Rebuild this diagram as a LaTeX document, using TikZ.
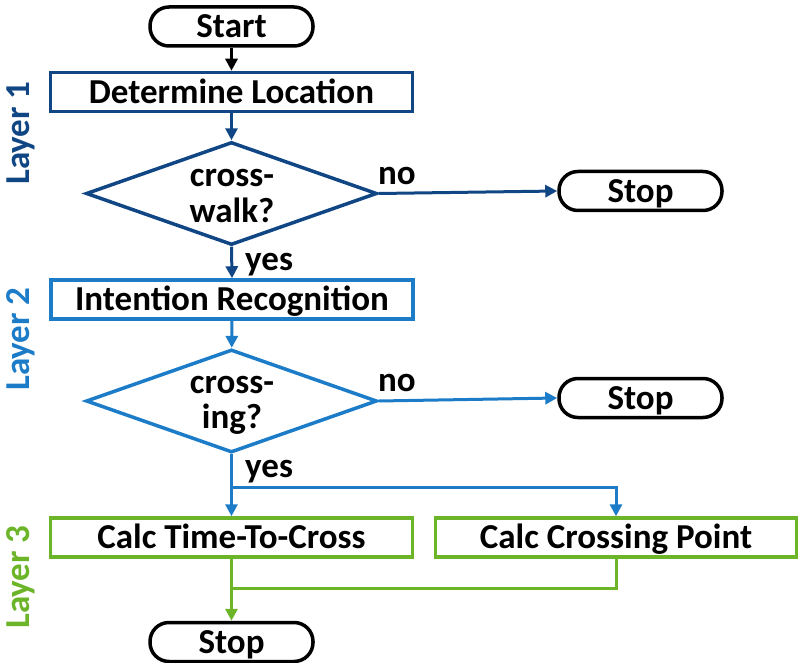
\documentclass[tikz,border=0pt]{standalone}
\usepackage{fontspec}
\setmainfont{Carlito}
\usetikzlibrary{shapes.geometric,arrows.meta}
\definecolor{dkblue}{RGB}{16,70,132}
\definecolor{ltblue}{RGB}{28,124,200}
\definecolor{grn}{RGB}{108,180,40}
\tikzset{
  txt/.style={font=\fontsize{35}{36}\selectfont\bfseries},
  term/.style={txt, draw=black, line width=3.5pt, rounded corners=19pt, minimum width=163pt, minimum height=39pt, inner sep=0pt, text height=22.5pt, text depth=0pt},
  proc/.style={txt, draw, line width=3.5pt, minimum width=362pt, minimum height=39pt, inner sep=0pt, text height=22.5pt, text depth=0pt},
  dec/.style={draw, line width=3.5pt, diamond, minimum width=291pt, minimum height=103pt, inner sep=0pt},
  conn/.style={line width=3pt, -{Triangle[length=12pt,width=12pt]}},
  lbl/.style={txt, inner sep=0pt, anchor=base west},
  dline/.style={txt, inner sep=0pt, anchor=base},
  layer/.style={txt, rotate=90, inner sep=0pt}
}
\begin{document}
\begin{tikzpicture}[x=1pt,y=-1pt]
\useasboundingbox (0,0) rectangle (798,663);
\node[term] (start) at (231.5,26.5) {Start};
\node[proc, draw=dkblue] (det) at (231.5,92) {Determine Location};
\node[dec, draw=dkblue] (d1) at (231.5,193.5) {};
\node[dline] (d1a) at (232,187) {cross-};
\node[dline] (d1b) at (232,223) {walk?};
\node[term] (stop1) at (640.5,191) {Stop};
\node[proc, draw=ltblue] (intent) at (232,299.5) {Intention Recognition};
\node[dec, draw=ltblue] (d2) at (231.5,401) {};
\node[dline] (d2a) at (232,393) {cross-};
\node[dline] (d2b) at (232,428) {ing?};
\node[term] (stop2) at (640.5,398) {Stop};
\node[proc, draw=grn] (ttc) at (231.5,537.5) {Calc Time-To-Cross};
\node[proc, draw=grn, minimum width=361pt] (cp) at (616,537.5) {Calc Crossing Point};
\node[term] (stop3) at (231.5,642) {Stop};

\node[layer, text=dkblue] (l1) at (20.5,133) {Layer 1};
\node[layer, text=ltblue] (l2) at (20.5,339) {Layer 2};
\node[layer, text=grn] (l3) at (20.5,577) {Layer 3};

\node[lbl] (no1) at (378,185) {no};
\node[lbl] (yes1) at (245,270) {yes};
\node[lbl] (no2) at (378,391) {no};
\node[lbl] (yes2) at (245,477) {yes};

\coordinate (j1) at (231.5,487);
\coordinate (j2) at (231.5,588);

\draw[conn, black] (start) -- (det);
\draw[conn, dkblue] (det) -- (d1);
\draw[conn, dkblue] (d1.east) -- (stop1.west);
\draw[conn, dkblue] (d1.south) -- (intent.north);
\draw[conn, ltblue] (intent) -- (d2);
\draw[conn, ltblue] (d2.east) -- (stop2.west);
\draw[conn, ltblue] (d2.south) -- (ttc.north);
\draw[conn, ltblue] (j1) -| (cp.north);
\draw[conn, grn] (ttc.south) -- (stop3.north);
\draw[line width=3pt, grn] (cp.south) |- (j2);
\end{tikzpicture}
\end{document}
